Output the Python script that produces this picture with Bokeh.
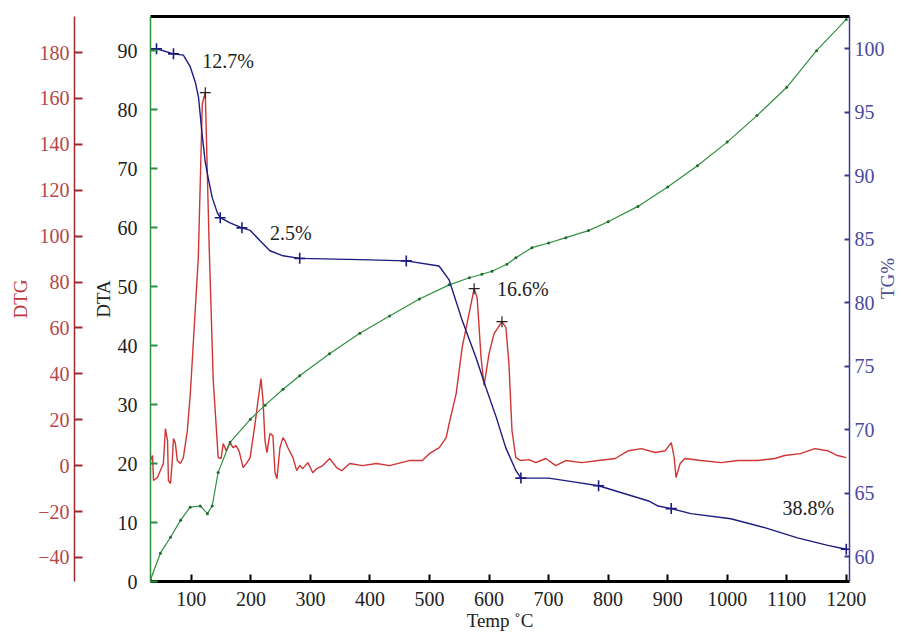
import math
from bokeh.plotting import figure
from bokeh.models import Range1d, LinearAxis, FixedTicker
from bokeh.core.properties import value
from bokeh.embed import file_html
from bokeh.resources import INLINE

# ---------------- data ----------------
X_TICKS = [100, 200, 300, 400, 500, 600, 700, 800, 900, 1000, 1100, 1200]
DTA_TICKS = [0, 10, 20, 30, 40, 50, 60, 70, 80, 90]
DTG_TICKS = [-40, -20, 0, 20, 40, 60, 80, 100, 120, 140, 160, 180]
TG_TICKS = [60, 65, 70, 75, 80, 85, 90, 95, 100]

dtg_temp = [31.4, 34.8, 36.5, 43, 53, 56.5, 60, 61.5, 65, 68, 70, 73, 76.5, 81.6, 86.6, 93.3,
            98.3, 111.7, 118.4, 123.4, 130, 136.8, 143.5, 145, 150, 153.5, 158.5, 165, 170, 175,
            180, 187, 193.6, 198.7, 207, 212, 217, 220.4, 223.7, 227, 232, 237, 240.5, 243.8,
            248.8, 253.8, 257.2, 262.2, 270.6, 277, 282, 287, 295.7, 304, 310.7, 320.7, 332.4,
            344, 352.5, 366, 387.6, 411, 432.8, 466, 488, 499.7, 516.4, 528, 533, 544.8, 554.8,
            563, 575, 580, 586.6, 591.6, 600, 608.4, 621.7, 628.4, 633.4, 638.5, 645, 653.5,
            667, 678.6, 695.3, 712, 728.8, 755.5, 784, 812, 834, 856, 879, 896, 906, 911, 914,
            921, 929, 956, 990, 1018, 1051.5, 1080, 1096.6, 1123, 1147, 1168.6, 1185, 1200]
dtg_val = [2.2, 4.4, -6.5, -5.2, 0.9, 16.1, 10.9, -6.5, -7.8, 2.2, 11.8, 10.0, 2.2, 0.9, 3.5, 15.3,
           31.4, 90.6, 157.7, 162.5, 95, 37, 10.0, 3.5, 3.1, 9.6, 6.5, 10.0, 7.8, 8.7,
           6.5, -0.9, 1.3, 3.5, 18.3, 28.3, 37.9, 28.3, 10.9, 5.7, 13.9, 13.1, -3.1, -5.7,
           7.8, 12.2, 10.9, 7.8, 3.5, -2.2, 0, -1.3, 1.3, -3.1, -1.3, 0, 3.1,
           -0.9, -2.2, 0.9, 0, 0.9, 0, 2.2, 2.2, 5.2, 7.8, 12.2, 18.3, 31.4, 51.4,
           61.9, 77.1, 73.2, 47.1, 34.9, 48.8, 57.5, 62.7, 60.1, 44.4, 15.3, 3.5, 2.2,
           2.6, 1.3, 3.1, 0, 2.2, 1.3, 2.2, 3.1, 6.5, 7.4, 5.7, 6.5, 10.0, 3.5, -5.2,
           0.9, 3.1, 2.2, 1.3, 2.2, 2.2, 3.1, 4.4, 5.2, 7.4, 6.5, 4.4, 3.5]
dtg_peak_temp = [123.4, 575, 621.7]
dtg_peak_val = [162.5, 77.1, 62.7]

tg_temp = [32, 41.5, 70, 86.6, 98, 107, 112, 118, 123, 128, 135, 143.5, 148.5, 165, 185, 199,
           215, 232, 254, 282, 383, 461, 516, 533, 555, 578, 595, 612, 628, 645, 653.5, 700, 742,
           784, 868, 884, 906, 939, 1006, 1063, 1118, 1169, 1200]
tg_val = [99.9, 100.0, 99.6, 99.5, 98.6, 97.3, 96.2, 93.3, 91.2, 89.9, 88.3, 87.1, 86.7, 86.3,
          85.9, 85.7, 84.9, 84.1, 83.7, 83.5, 83.4, 83.3, 82.9, 81.8, 78.6, 75.7, 73.3, 71.0,
          68.6, 66.8, 66.2, 66.2, 65.9, 65.6, 64.4, 64.0, 63.8, 63.4, 63.0, 62.3, 61.5, 60.9, 60.6]
tg_mark_temp = [41.5, 70, 148.5, 185, 282, 461, 653.5, 784, 906, 1200]
tg_mark_val = [100.0, 99.6, 86.7, 85.9, 83.5, 83.3, 66.2, 65.6, 63.8, 60.6]

dta_temp = [31.4, 48, 65, 82, 98, 115, 127, 135, 145, 165, 199, 224, 254, 282, 332, 383, 433,
            483, 533, 567, 588, 605, 630, 645, 672, 700, 729, 767, 800, 850, 900, 950, 1000,
            1050, 1100, 1150, 1200]
dta_val = [0.3, 4.8, 7.5, 10.4, 12.6, 12.8, 11.5, 12.8, 18.5, 23.6, 27.5, 29.9, 32.6, 34.9,
           38.6, 42.1, 45.0, 47.9, 50.3, 51.5, 52.1, 52.6, 53.8, 54.9, 56.6, 57.4, 58.3, 59.5,
           61.0, 63.6, 66.9, 70.5, 74.5, 79.0, 83.8, 90.0, 95.3]

ann_text = ["12.7%", "2.5%", "16.6%", "38.8%"]
ann_temp = [118.4, 232, 613.4, 1093]
ann_dta = [88.2, 59.1, 49.6, 12.5]

# ---------------- styles ----------------
FONT = "Liberation Serif"
RED = "#d03434"
RED_AX = "#9e2a2e"
RED_TXT = "#b5474b"
BLUE = "#1c1c80"
BLUE_AX = "#3b3b8f"
BLUE_TXT = "#4a4a9c"
GREEN = "#2f8f3f"
GREEN_DOT = "#1f6a2c"

p = figure(width=911, height=633, output_backend="svg", toolbar_location=None,
           x_range=Range1d(31.4, 1205.4), y_range=Range1d(0, 95.8),
           min_border_left=150, min_border_right=59, min_border_top=16, min_border_bottom=0,
           x_axis_label="Temp ˚C", y_axis_label="DTA")
p.extra_y_ranges = {"dtg": Range1d(-50.5, 195.7), "tg": Range1d(58.06, 102.54)}
p.grid.visible = False
p.outline_line_color = None
p.background_fill_color = "white"
p.border_fill_color = "white"


def style_axis(ax, line_color, tick_color, label_color, title_color):
    ax.axis_line_color = line_color
    ax.major_tick_line_color = tick_color
    ax.minor_tick_line_color = None
    ax.major_label_text_font = FONT
    ax.major_label_text_font_size = "20px"
    ax.major_label_text_color = label_color
    ax.axis_label_text_font = FONT
    ax.axis_label_text_font_size = "19px"
    ax.axis_label_text_font_style = "normal"
    ax.axis_label_text_color = title_color


# x axis
xa = p.xaxis[0]
xa.ticker = FixedTicker(ticks=X_TICKS)
style_axis(xa, "black", "black", "#222222", "#222222")
xa.axis_line_width = 3
xa.major_tick_line_width = 2
xa.major_tick_in = 7
xa.major_tick_out = 0
xa.major_label_standoff = 10
xa.axis_label_standoff = 1

# DTA axis (inner left)
ya = p.yaxis[0]
ya.ticker = FixedTicker(ticks=DTA_TICKS)
style_axis(ya, GREEN, GREEN, "#222222", "#222222")
ya.axis_line_width = 1.5
ya.major_tick_line_width = 2
ya.major_tick_in = 7
ya.major_tick_out = 0
ya.major_label_standoff = 13
ya.axis_label_standoff = 1

# spacer between DTA and DTG axes (one white tick label gives it its width)
spacer = LinearAxis(ticker=FixedTicker(ticks=[55]), major_label_overrides={55: "00"},
                    major_label_text_font_size="11px", major_label_text_color="white",
                    axis_line_color=None, major_tick_line_color=None,
                    minor_tick_line_color=None, major_tick_out=0, major_tick_in=0,
                    major_label_standoff=0)
p.add_layout(spacer, "left")

# DTG axis (outer left)
dtg_ax = LinearAxis(y_range_name="dtg", ticker=FixedTicker(ticks=DTG_TICKS), axis_label="DTG")
style_axis(dtg_ax, RED_AX, RED_AX, RED_TXT, "#c0353a")
dtg_ax.axis_line_width = 1.5
dtg_ax.major_tick_line_width = 2
dtg_ax.major_tick_in = 8
dtg_ax.major_tick_out = 0
dtg_ax.major_label_standoff = 5
dtg_ax.axis_label_standoff = 4
p.add_layout(dtg_ax, "left")

# TG axis (right)
tg_ax = LinearAxis(y_range_name="tg", ticker=FixedTicker(ticks=TG_TICKS), axis_label="TG%")
style_axis(tg_ax, BLUE_AX, BLUE_AX, BLUE_TXT, BLUE_TXT)
tg_ax.axis_line_width = 1.5
tg_ax.major_tick_line_width = 2
tg_ax.major_tick_in = 5
tg_ax.major_tick_out = 0
tg_ax.major_label_standoff = 5
tg_ax.axis_label_standoff = 0
if "axis_label_orientation" in LinearAxis.properties():
    tg_ax.axis_label_orientation = math.pi / 2
p.add_layout(tg_ax, "right")

# top border
top_ax = LinearAxis(ticker=FixedTicker(ticks=[]), axis_line_width=3, axis_line_color="black",
                    major_tick_in=0, major_tick_out=0, major_label_standoff=0,
                    minor_tick_line_color=None)
p.add_layout(top_ax, "above")

# curves
p.line(dtg_temp, dtg_val, y_range_name="dtg", line_color=RED, line_width=1.4)
p.line(dta_temp, dta_val, line_color=GREEN, line_width=1.2)
p.scatter(dta_temp, dta_val, marker="circle", size=3, fill_color=GREEN_DOT, line_color=None)
p.line(tg_temp, tg_val, y_range_name="tg", line_color=BLUE, line_width=1.4)
p.scatter(tg_mark_temp, tg_mark_val, y_range_name="tg", marker="cross", size=11,
          line_color=BLUE, line_width=1.6)
p.scatter(dtg_peak_temp, dtg_peak_val, y_range_name="dtg", marker="cross", size=11,
          line_color="#222222", line_width=1.2)

p.text(x=ann_temp, y=ann_dta, text=ann_text, text_font=value(FONT), text_font_size="20px",
       text_baseline="middle", text_align="left", text_color="#222222")

open("out.html", "w").write(file_html(p, INLINE))
